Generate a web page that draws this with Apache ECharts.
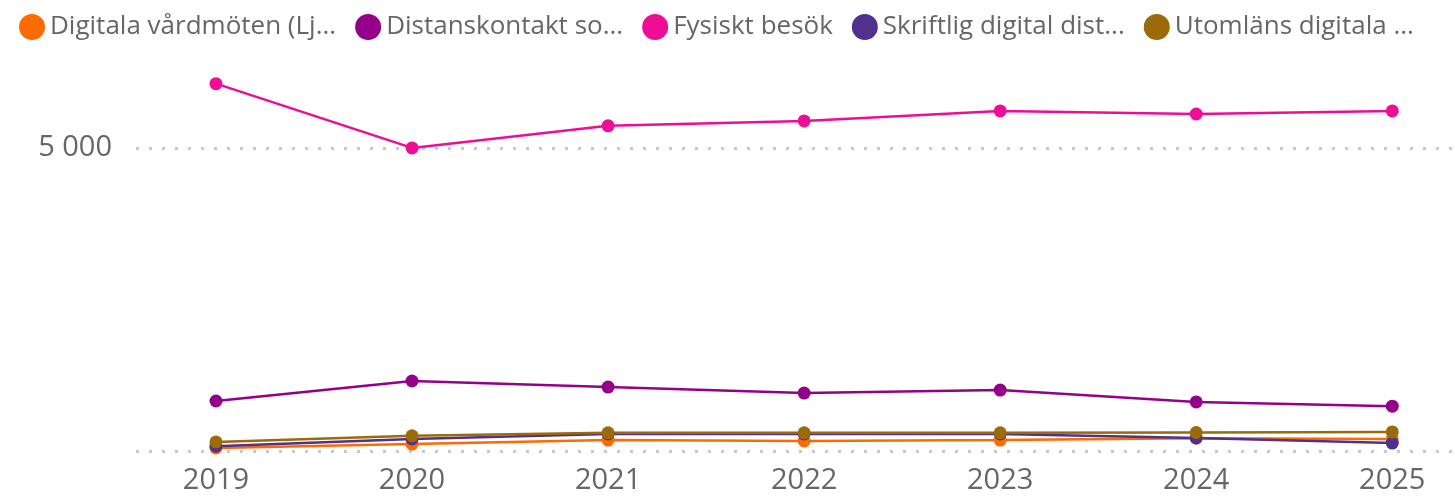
<!DOCTYPE html>
<html>
<head>
<meta charset="utf-8">
<script src="https://cdn.jsdelivr.net/npm/echarts@6/dist/echarts.min.js"></script>
<style>
  html, body { margin: 0; padding: 0; background: #fff; }
  #chart { width: 1455px; height: 496px; }
</style>
</head>
<body>
<div id="chart"></div>
<script>
// år på x-axeln
var years = [2019, 2020, 2021, 2022, 2023, 2024, 2025];

// värden per kontakttyp
var digitala   = [50, 115, 180, 165, 180, 210, 200];
var distans    = [825, 1155, 1055, 955, 1005, 810, 740];
var fysiskt    = [6060, 5000, 5365, 5445, 5610, 5560, 5610];
var skriftlig  = [80, 200, 280, 280, 280, 215, 130];
var utomlans   = [150, 250, 300, 300, 300, 305, 315];

var names = [
  'Digitala vårdmöten (Lj...',
  'Distanskontakt so...',
  'Fysiskt besök',
  'Skriftlig digital dist...',
  'Utomläns digitala ...'
];
var colors = ['#FF6A00', '#94008A', '#EE0D95', '#52308D', '#9A6B08'];

function pairs(arr){
  var res = [];
  for(var i=0;i<years.length;i++){
    res.push([years[i], arr[i]]);
  }
  return res;
}

var allData = [digitala, distans, fysiskt, skriftlig, utomlans];
var series = [];
for(var i=0;i<allData.length;i++){
  series.push({
    name: names[i],
    type: 'line',
    data: pairs(allData[i]),
    symbol: 'circle',
    symbolSize: 13,
    showSymbol: true,
    lineStyle: { width: 2.5 },
    itemStyle: { color: colors[i] },
    emphasis: { disabled: true }
  });
}

var chart = echarts.init(document.getElementById('chart'), null, { renderer: 'canvas' });
chart.setOption({
  animation: false,
  color: colors,
  textStyle: { fontFamily: '"Open Sans", "Noto Sans", sans-serif' },
  legend: {
    left: 14,
    top: 9,
    itemWidth: 26,
    itemHeight: 26,
    itemGap: 19,
    icon: 'circle',
    textStyle: { fontSize: 26, color: '#666' },
    data: names
  },
  grid: {
    left: 136,
    right: 0,
    top: 57,
    height: 394,
    containLabel: false
  },
  xAxis: {
    type: 'value',
    min: 2018.592,
    max: 2025.32,
    axisLine: { show: false },
    axisTick: { show: false },
    splitLine: { show: false },
    axisLabel: {
      customValues: years,
      fontSize: 29,
      color: '#666',
      margin: 15,
      formatter: function(v){ return String(Math.round(v)); }
    }
  },
  yAxis: {
    type: 'value',
    min: 0,
    max: 6500,
    interval: 5000,
    axisLine: { show: false },
    axisTick: { show: false },
    axisLabel: {
      fontSize: 29,
      color: '#666',
      margin: 24,
      showMinLabel: false,
      showMaxLabel: false,
      formatter: function(v){ return String(v).replace(/\B(?=(\d{3})+(?!\d))/g, ' '); }
    },
    splitLine: {
      show: true,
      showMinLine: true,
      showMaxLine: false,
      lineStyle: { color: '#c8c8c8', width: 3, type: [3, 10] }
    }
  },
  series: series
});
</script>
</body>
</html>
